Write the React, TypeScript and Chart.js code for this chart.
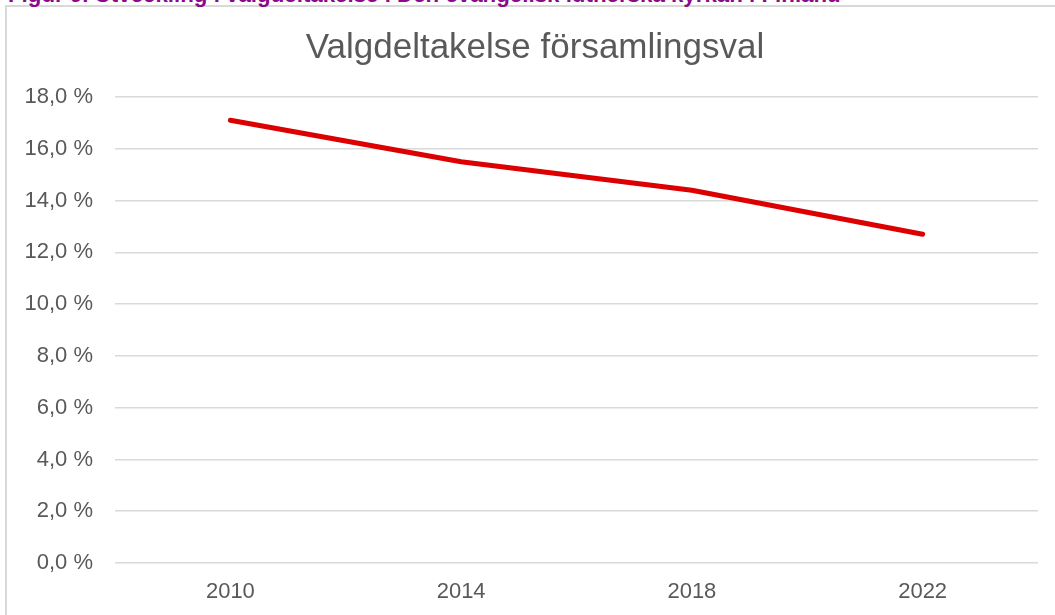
import React, { useEffect, useRef } from "react";
import { Chart, registerables } from "chart.js";

Chart.register(...registerables);

const captionText = "Figur 9. Utveckling i valgdeltakelse i Den evangelisk lutherska kyrkan i Finland";
const chartTitle = "Valgdeltakelse församlingsval";
const years = ["2010", "2014", "2018", "2022"];
const turnout = [17.1, 15.5, 14.4, 12.7];
const yMin = 0;
const yMax = 18;
const yStep = 2;

const FONT = "'Liberation Sans', Arial, sans-serif";

const titlePlugin = {
  id: "customTitle",
  afterDraw(chart: any) {
    const ctx = chart.ctx;
    ctx.save();
    ctx.font = `35px ${FONT}`;
    ctx.fillStyle = "#595959";
    ctx.textAlign = "center";
    ctx.textBaseline = "alphabetic";
    ctx.fillText(chartTitle, 535, 58);
    ctx.restore();
  },
};

export default function App() {
  const ref = useRef<HTMLCanvasElement>(null);
  useEffect(() => {
    document.body.style.margin = "0";
    const chart = new Chart(ref.current as HTMLCanvasElement, {
      type: "line",
      data: {
        labels: years,
        datasets: [
          {
            data: turnout,
            borderColor: "#dd0000",
            borderWidth: 5,
            borderCapStyle: "round",
            borderJoinStyle: "round",
            pointRadius: 0,
            tension: 0,
            fill: false,
          },
        ],
      },
      options: {
        animation: false,
        responsive: false,
        layout: { padding: { left: 25, right: 17, top: 97, bottom: 0 } },
        plugins: { legend: { display: false }, title: { display: false }, tooltip: { enabled: false } },
        scales: {
          x: {
            offset: true,
            grid: { display: false, drawTicks: false },
            border: { display: false },
            ticks: { color: "#595959", font: { family: FONT, size: 22 }, padding: 16 },
            afterFit: (s: any) => {
              s.height = 52;
            },
          },
          y: {
            min: yMin,
            max: yMax,
            grid: { color: "#d9d9d9", lineWidth: 1.5, drawTicks: false },
            border: { display: false },
            ticks: {
              stepSize: yStep,
              color: "#595959",
              font: { family: FONT, size: 22 },
              padding: 22,
              callback: (v: any) => Number(v).toFixed(1).replace(".", ",") + " %",
            },
            afterFit: (s: any) => {
              s.width = 90;
            },
          },
        },
      },
      plugins: [titlePlugin],
    } as any);
    return () => chart.destroy();
  }, []);

  return (
    <div style={{ position: "relative", width: 1055, height: 615, overflow: "hidden", background: "#fff" }}>
      <div
        style={{
          position: "absolute",
          left: 5,
          top: 5,
          width: 1070,
          height: 640,
          border: "2px solid #d9d9d9",
          boxSizing: "border-box",
        }}
      />
      <div
        style={{
          position: "absolute",
          left: 8,
          top: -16,
          whiteSpace: "nowrap",
          fontFamily: FONT,
          fontWeight: "bold",
          fontSize: "22.3px",
          lineHeight: "22px",
          color: "#8b0a8b",
        }}
      >
        {captionText}
      </div>
      <canvas ref={ref} width={1055} height={615} style={{ position: "absolute", left: 0, top: 0 }} />
    </div>
  );
}
